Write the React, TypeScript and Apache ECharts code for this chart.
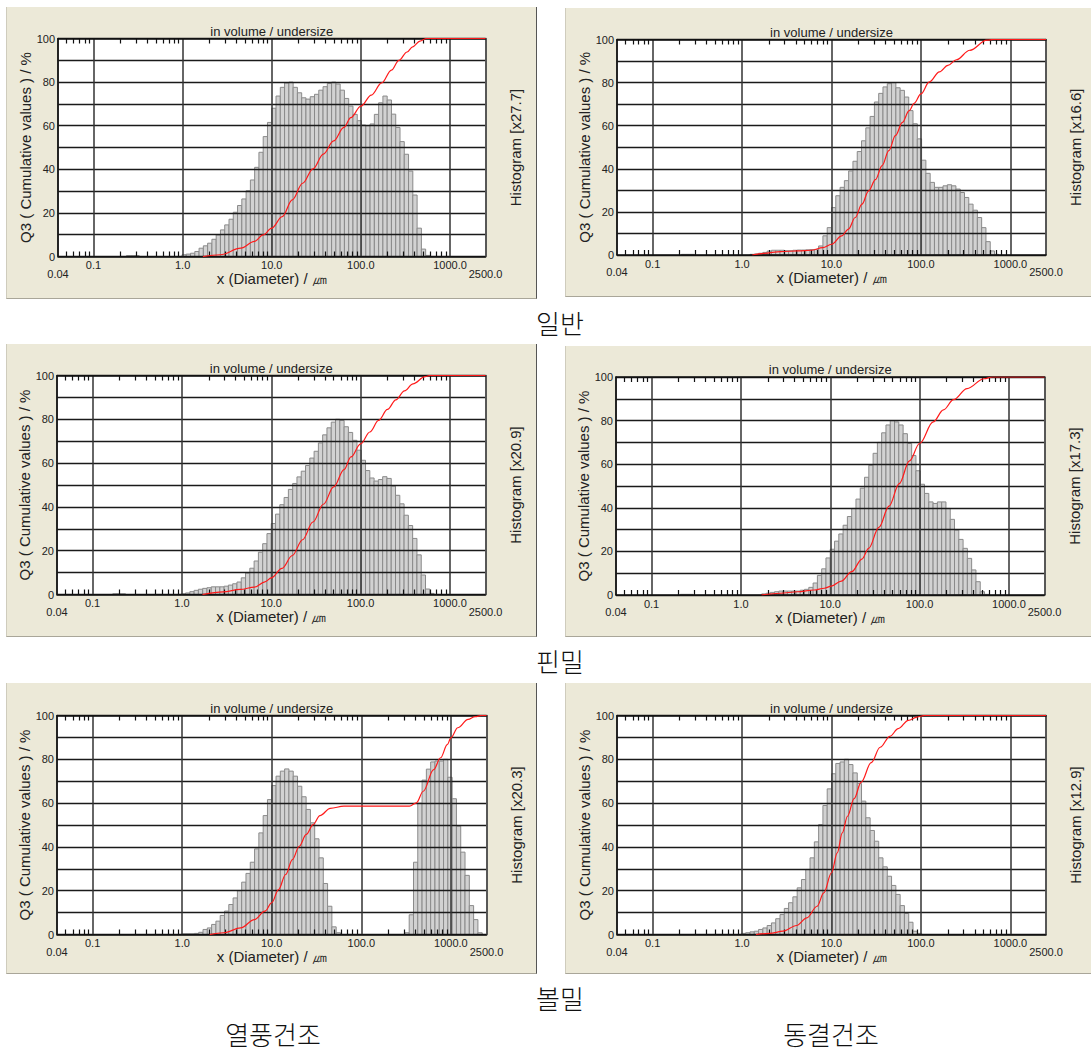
import React, { useEffect, useRef } from "react";
import * as echarts from "echarts";

// ---- size classes (instrument bins, log-equidistant) ----
const sizeMin = 0.04;
const sizeMax = 2500;
const classCount = 100;
const binEdges: number[] = Array.from({ length: classCount + 1 }, (_, i) =>
  sizeMin * Math.pow(sizeMax / sizeMin, i / classCount)
);

// ---- axis ticks / labels ----
const xMajorLabels = [0.1, 1, 10, 100, 1000];
const xEdgeLabels = [sizeMin, sizeMax];
const xMinorTicks = [
  0.05, 0.06, 0.07, 0.08, 0.09,
  0.2, 0.3, 0.4, 0.5, 0.6, 0.7, 0.8, 0.9,
  2, 3, 4, 5, 6, 7, 8, 9,
  20, 30, 40, 50, 60, 70, 80, 90,
  200, 300, 400, 500, 600, 700, 800, 900,
];
const yMin = 0;
const yMax = 100;
const yTickStep = 10;
const yLabelStep = 20;

// ---- texts ----
const panelTitle = "in volume / undersize";
const xName = "x (Diameter) / \u339B";
const yName = "Q3 ( Cumulative values ) / %";
const histScales = ["x27.7", "x16.6", "x20.9", "x17.3", "x20.3", "x12.9"];
const rowLabels = ["일반", "핀밀", "볼밀"];
const columnLabels = ["열풍건조", "동결건조"];

// ---- histogram heights (scaled, % of left axis), from class index start ----
const p1HistStart = 16;
const p1Hist = [
  0.4, 0.4, 0.4,
  0, 0, 0, 0, 0, 0, 0, 0, 0, 0,
  0.8, 1.1, 1.5, 2.3, 3.8, 4.9, 6.1, 7.9, 9.9, 12.2,
  14.5, 17.1, 20.3, 23.4, 26.4, 30.2, 35.1, 40.9, 47.8, 55,
  61.5, 68, 73.6, 77.6, 79.6, 80, 77.6, 75.1, 72.8, 72.2,
  73.3, 74.4, 76.3, 77.9, 79.4, 80, 79.1, 76.3, 72.5, 69,
  65.2, 62.3, 60.3, 60, 60.8, 65.2, 70.5, 73.6, 71.8, 65.3,
  59.2, 52.7, 46.9, 39.2, 28.2, 13, 3.4, 0.5,
];
const p2HistStart = 15;
const p2Hist = [
  0.3, 0.3, 0.3,
  0, 0, 0, 0, 0, 0, 0, 0, 0, 0, 0, 0, 0,
  0.3, 0.5, 0.8, 1.2, 1.8, 2.2, 2.2, 2.2, 2.0, 2.0,
  2.2, 2.3, 2.3, 2.4, 2.5, 2.6, 4.2, 8.9, 12.7, 22,
  27.5, 31.4, 34.5, 39, 43.5, 48, 53, 59, 64.3, 71,
  75, 78, 79.5, 80, 77.6, 76.4, 73.3, 67, 60.9, 53.9,
  44, 37.9, 33.7, 31.4, 31.4, 32.1, 32.6, 32.1, 30.6, 29,
  26.7, 23.6, 20.8, 17.4, 12.7, 6.2, 1.9, 0.3,
];
const p3HistStart = 13;
const p3Hist = [
  0.3, 0.3, 0.3,
  0, 0, 0, 0, 0, 0, 0, 0, 0, 0, 0, 0, 0,
  0.3, 0.7, 1.3, 1.9, 2.4, 2.8, 3.1, 3.5, 3.5, 3.5,
  3.8, 4.3, 4.9, 5.7, 7.6, 9.8, 12, 15.3, 19.3, 23.2,
  27.8, 32.4, 36.7, 41, 44.3, 48, 50.7, 53.7, 56.3, 58.9,
  62.3, 65.4, 69.2, 72.9, 76.1, 78.7, 80, 79.5, 76.6, 74,
  70.4, 65.9, 61.3, 56.6, 53.2, 51.8, 52.5, 53.8, 53, 49.5,
  45.3, 41.4, 36.2, 31.5, 25.6, 18.1, 8.9, 2.5, 0.5,
];
const p4HistStart = 15;
const p4Hist = [
  0.3, 0.3, 0.3,
  0, 0, 0, 0, 0, 0, 0, 0, 0, 0, 0, 0, 0, 0, 0, 0,
  0.5, 0.8, 1.2, 1.5, 1.8, 1.8, 1.8, 1.8, 1.8, 2.2,
  2.6, 3.5, 5.5, 9, 12, 17, 21, 24.7, 28, 32,
  36, 39.7, 44, 49, 54, 59.5, 65, 70, 74.4, 78,
  80, 79.4, 78, 74, 69.5, 64, 57, 50.8, 46.6, 42.7,
  42, 42.7, 42.7, 39.7, 34.7, 29.8, 25.5, 21.4, 16.8, 11.5,
  6.1, 1.5, 0.3,
];
const p5HistStart = 29;
const p5Hist = [
  0.3, 0.3, 0.3, 0.5, 1, 2.3, 3, 4.6, 6.1, 8.7,
  10.7, 13.7, 16.7, 20, 23.9, 27.9, 33, 39.1, 46.4, 54.3,
  61.6, 68, 72.3, 74.6, 75.6, 74.6, 72.3, 67.7, 62.9, 57.1,
  51, 43.7, 35, 23.3, 12.9, 3.5, 0.8,
  0, 0, 0, 0, 0, 0, 0, 0, 0, 0, 0, 0, 0, 0, 0,
  0.8, 9, 33, 60, 70.5, 75.5, 78.8, 79.2, 79.2, 80,
  71.8, 62, 49.5, 37.6, 27, 13.2, 6.8, 0.8,
];
const p6HistStart = 29;
const p6Hist = [
  0.5, 0.8, 1.2, 1.5, 2.3, 3, 4.1, 5.3, 7.2, 9.1,
  11.9, 14.5, 17.2, 21.3, 25.1, 29.7, 35, 42.3, 50.2, 58.9,
  66.5, 73.4, 78.1, 78.8, 80, 77.6, 73.8, 69, 60.9, 53.3,
  47.5, 42.6, 35, 30.9, 26.6, 22.4, 18.3, 13.2, 9.6, 5.6,
  1.5, 0.5,
];

// ---- cumulative Q3 curves: [diameter um, %] ----
const p1Q3 = [[1.69, 0], [2.64, 0.8], [4.5, 3.8], [6.4, 6.9], [8.0, 9.9], [10, 13], [13.1, 18.3], [17, 26], [22.2, 33.6], [29, 40.2], [37.9, 47], [49.4, 53], [64.5, 59.2], [77.1, 63.7], [100, 69], [131, 74], [171, 79.6], [220, 85.5], [267, 90], [330, 93.8], [381, 96.2], [460, 98.8], [543, 100], [2500, 100]];
const p2Q3 = [[1.3, 0], [1.76, 0.8], [2.7, 1.6], [4.2, 1.9], [5.9, 2.2], [8, 3.4], [10, 5], [13, 8.9], [15.5, 12], [18.4, 17.4], [21.9, 23.6], [26, 29.8], [31, 35], [36.8, 41.5], [43.7, 48.4], [52, 55.5], [62, 61.5], [73.8, 67], [84, 70.4], [100, 74.8], [124, 80.3], [161, 85], [200, 88], [249, 90.6], [352, 95], [545, 99.7], [640, 100], [2500, 100]];
const p3Q3 = [[1.7, 0], [2.9, 1.2], [4.5, 2.3], [6.5, 3.4], [8.5, 5.8], [10, 7.6], [13.2, 11.9], [17.2, 17.8], [22.4, 25], [29.3, 33.1], [38.3, 41.2], [50, 49.1], [65.3, 57], [78, 62.8], [100, 68.8], [127, 74.2], [159, 79.5], [200, 84.5], [248, 88.9], [310, 93], [386, 96.2], [527, 99.5], [600, 100], [2500, 100]];
const p4Q3 = [[1.7, 0], [2.76, 0.8], [4.3, 1.5], [6.6, 2.3], [8.6, 3.1], [10.3, 4.1], [13.3, 6.4], [17.4, 10.7], [22.6, 16.5], [26.9, 21.4], [35, 31], [45.5, 40.8], [59.2, 51.1], [77, 61.5], [100, 69.5], [142, 79.4], [185, 84.9], [240, 89.6], [340, 94.7], [527, 99.2], [650, 100], [2500, 100]];
const p5Q3 = [[2.03, 0], [2.9, 0.8], [4.5, 3], [6.4, 6.8], [8.4, 10.7], [10, 14.5], [11.9, 20.5], [14.3, 27.4], [17, 34.2], [20.3, 40.3], [24.3, 45.7], [29, 50.2], [34.5, 54.3], [45, 57.6], [64, 58.6], [156, 58.6], [345, 58.6], [412, 60.1], [492, 65.4], [642, 75.3], [767, 80.7], [916, 86.8], [1000, 89.8], [1194, 94.4], [1557, 98.2], [1862, 99.5], [2200, 100], [2500, 100]];
const p6Q3 = [[1.43, 0], [2.03, 0.5], [2.87, 1.5], [4.07, 4.1], [5.3, 7.6], [6.9, 12.9], [8.2, 19], [10, 28.2], [11.6, 37.3], [13.2, 46.4], [15.1, 54], [17.9, 62], [21.4, 69.5], [27.8, 78.5], [35, 85.5], [45, 90.5], [55.7, 94], [72.4, 97.8], [90, 99.3], [110, 100], [2500, 100]];

const panels = [
  { start: p1HistStart, hist: p1Hist, q3: p1Q3 },
  { start: p2HistStart, hist: p2Hist, q3: p2Q3 },
  { start: p3HistStart, hist: p3Hist, q3: p3Q3 },
  { start: p4HistStart, hist: p4Hist, q3: p4Q3 },
  { start: p5HistStart, hist: p5Hist, q3: p5Q3 },
  { start: p6HistStart, hist: p6Hist, q3: p6Q3 },
];

// ---- layout (pixels) ----
const gridBoxes = [
  { left: 58, top: 38.5, width: 427.5, height: 218 },
  { left: 617, top: 39.5, width: 429, height: 215.5 },
  { left: 57, top: 375.5, width: 428.5, height: 219 },
  { left: 616, top: 377, width: 428.5, height: 218 },
  { left: 57, top: 715.5, width: 429.5, height: 219 },
  { left: 617, top: 715.5, width: 429, height: 219 },
];
const panelBoxes = [
  { x: 6, y: 7, w: 531, h: 292 },
  { x: 565, y: 8, w: 526, h: 289 },
  { x: 6, y: 344, w: 531, h: 293 },
  { x: 565, y: 346, w: 526, h: 291 },
  { x: 6, y: 683, w: 531, h: 291 },
  { x: 565, y: 683, w: 526, h: 291 },
];
const rowLabelPos = [
  { x: 560, y: 322 },
  { x: 560, y: 660 },
  { x: 560, y: 997 },
];
const columnLabelPos = [
  { x: 273, y: 1033 },
  { x: 831, y: 1033 },
];

const FONT = "'Liberation Sans', Arial, sans-serif";
const lg = (v: number) => Math.log10(v);
const lMin = lg(sizeMin);
const lMax = lg(sizeMax);
const fmtSize = (v: number) => {
  const d = Math.pow(10, v);
  return d < 0.095 ? d.toFixed(2) : d.toFixed(1);
};

function buildOption() {
  const grid: any[] = [];
  const xAxis: any[] = [];
  const yAxis: any[] = [];
  const series: any[] = [];

  panels.forEach((p, g) => {
    const b = gridBoxes[g];
    grid.push({
      left: b.left, top: b.top, width: b.width, height: b.height,
      show: true, backgroundColor: "#ffffff", borderWidth: 0,
    });
    // main bottom axis: labels at decades + major grid lines
    xAxis.push({
      type: "value", gridIndex: g, position: "bottom", min: lMin, max: lMax, z: 3,
      axisLine: { show: true, onZero: false, lineStyle: { color: "#111", width: 1.5 } },
      axisTick: { show: false },
      axisLabel: {
        customValues: xMajorLabels.map(lg), formatter: fmtSize, margin: 3,
        fontSize: 11, color: "#222", fontFamily: FONT,
      },
      splitLine: { show: true, lineStyle: { color: "#333", width: 1.5 } },
      name: xName, nameLocation: "middle", nameGap: 14,
      nameTextStyle: { fontSize: 15, color: "#222", fontFamily: FONT },
    });
    // bottom minor ticks + edge labels
    xAxis.push({
      type: "value", gridIndex: g, position: "bottom", min: lMin, max: lMax, z: 3,
      axisLine: { show: false, onZero: false },
      axisTick: {
        show: true, inside: true, length: 5, customValues: xMinorTicks.map(lg),
        lineStyle: { color: "#111", width: 1.2 },
      },
      axisLabel: {
        customValues: xEdgeLabels.map(lg), formatter: fmtSize, margin: 11.5,
        fontSize: 11, color: "#222", fontFamily: FONT,
      },
      splitLine: { show: false },
    });
    // top axis: border + minor ticks + title
    xAxis.push({
      type: "value", gridIndex: g, position: "top", min: lMin, max: lMax, z: 3,
      axisLine: { show: true, onZero: false, lineStyle: { color: "#111", width: 1.5 } },
      axisTick: {
        show: true, inside: true, length: 5, customValues: xMinorTicks.map(lg),
        lineStyle: { color: "#111", width: 1.2 },
      },
      axisLabel: { show: false },
      splitLine: { show: false },
      name: panelTitle, nameLocation: "middle", nameGap: 1,
      nameTextStyle: { fontSize: 13, color: "#222", fontFamily: FONT },
    });
    yAxis.push({
      type: "value", gridIndex: g, position: "left", min: yMin, max: yMax, interval: yTickStep, z: 3,
      axisLine: { show: true, onZero: false, lineStyle: { color: "#111", width: 1.5 } },
      axisTick: { show: false },
      axisLabel: {
        formatter: (v: number) => (v % yLabelStep === 0 ? String(v) : ""),
        margin: 3, fontSize: 11, color: "#222", fontFamily: FONT, padding: [0, 0, 7, 0],
      },
      splitLine: { show: true, lineStyle: { color: "#1a1a1a", width: 1.3 } },
      name: yName, nameLocation: "middle", nameGap: 21,
      nameTextStyle: { fontSize: 15, color: "#222", fontFamily: FONT },
    });
    yAxis.push({
      type: "value", gridIndex: g, position: "right", min: yMin, max: yMax, interval: yTickStep, z: 3,
      axisLine: { show: true, onZero: false, lineStyle: { color: "#555", width: 1.5 } },
      axisTick: { show: false },
      axisLabel: { show: false },
      splitLine: { show: false },
      name: "Histogram [" + histScales[g] + "]", nameLocation: "middle", nameGap: 22,
      nameTextStyle: { fontSize: 15, color: "#222", fontFamily: FONT },
    });

    const histData = p.hist
      .map((h, j) => [lg(binEdges[p.start + j]), lg(binEdges[p.start + j + 1]), h])
      .filter((d) => d[2] > 0);
    series.push({
      type: "custom", name: "hist" + g, xAxisIndex: g * 3, yAxisIndex: g * 2, z: 2,
      silent: true, clip: true,
      encode: { x: [0, 1], y: 2 },
      data: histData,
      renderItem: (params: any, api: any) => {
        const a = api.coord([api.value(0), api.value(2)]);
        const c = api.coord([api.value(1), 0]);
        return {
          type: "rect",
          shape: { x: a[0], y: a[1], width: c[0] - a[0], height: c[1] - a[1] },
          style: { fill: "#d2d2d2", stroke: "#8a8a8a", lineWidth: 1 },
        };
      },
    });
    series.push({
      type: "line", name: "Q3 " + g, xAxisIndex: g * 3, yAxisIndex: g * 2, z: 5,
      data: p.q3.map(([d, q]) => [lg(d), q]),
      symbol: "none", smooth: 0.35, smoothMonotone: "x", silent: true,
      lineStyle: { color: "#ff1a1a", width: 1.2 },
    });
  });

  const labelStyle = (text: string) => ({
    text, fontSize: 26, fontWeight: 300, lineHeight: 28,
    fontFamily: "'Noto Sans CJK KR', sans-serif", fill: "#111",
    align: "center", verticalAlign: "middle", textAlign: "center", textVerticalAlign: "middle",
  });
  const graphic: any[] = [
    ...rowLabels.map((t, i) => ({ type: "text", x: rowLabelPos[i].x, y: rowLabelPos[i].y, style: labelStyle(t) })),
    ...columnLabels.map((t, i) => ({ type: "text", x: columnLabelPos[i].x, y: columnLabelPos[i].y, style: labelStyle(t) })),
  ];

  return {
    animation: false,
    backgroundColor: "transparent",
    grid, xAxis, yAxis, series, graphic,
  };
}

export default function App() {
  const ref = useRef<HTMLDivElement>(null);
  useEffect(() => {
    const chart = echarts.init(ref.current as HTMLDivElement, null, { renderer: "svg" });
    chart.setOption(buildOption() as any);
    return () => chart.dispose();
  }, []);
  return (
    <div style={{ position: "fixed", left: 0, top: 0, width: 1091, height: 1052, background: "#ffffff", overflow: "hidden" }}>
      {panelBoxes.map((b, i) => (
        <div
          key={i}
          style={{
            position: "absolute", left: b.x, top: b.y, width: b.w, height: b.h,
            background: "#ece9d8", boxSizing: "border-box",
            borderLeft: "1px solid #cfccbd", borderBottom: "1px solid #a9a699",
            borderRight: i % 2 === 0 ? "1px solid #555" : "none",
          }}
        />
      ))}
      <div ref={ref} style={{ position: "absolute", left: 0, top: 0, width: 1091, height: 1052 }} />
    </div>
  );
}
